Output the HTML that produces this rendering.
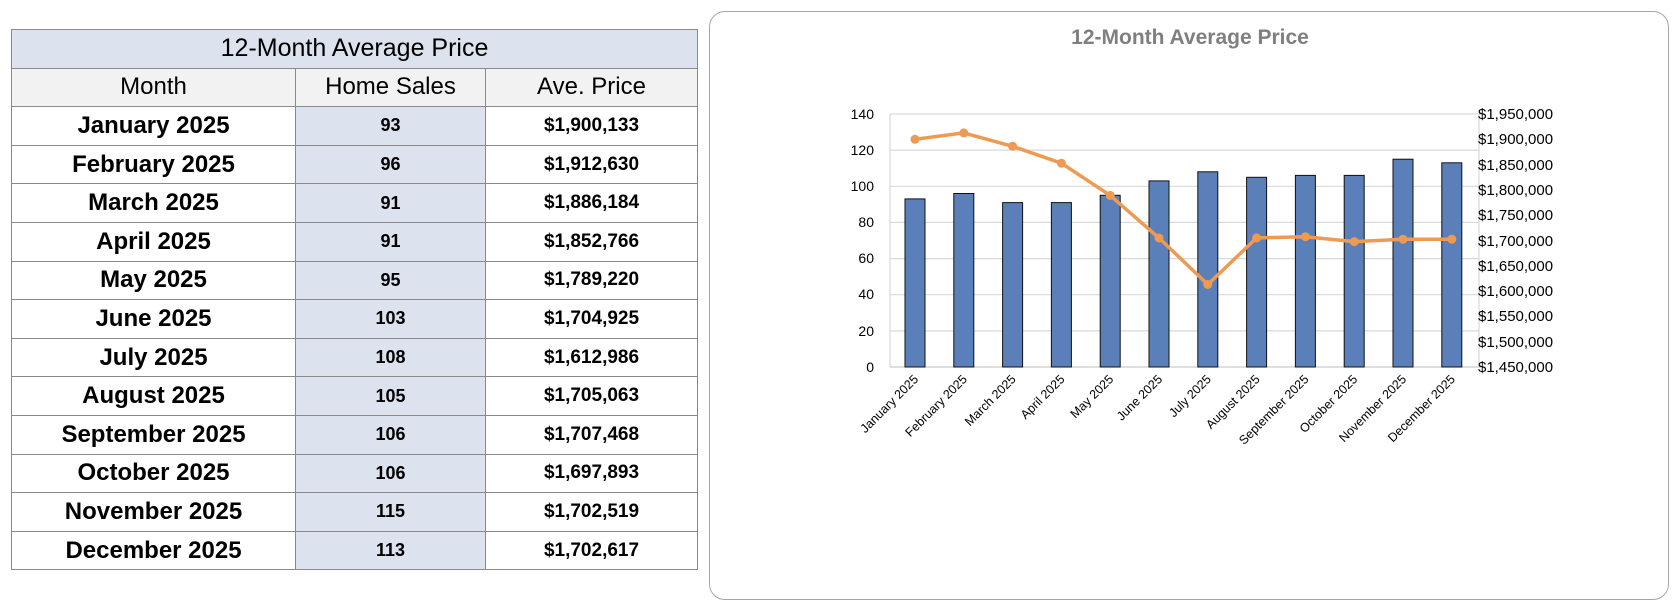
<!DOCTYPE html>
<html><head><meta charset="utf-8"><style>
html,body{margin:0;padding:0;background:#fff;width:1678px;height:610px;overflow:hidden;font-family:"Liberation Sans",Arial,sans-serif}
table{position:absolute;left:11px;top:29px;width:686px;border-collapse:collapse;table-layout:fixed}
td{border:1px solid #8a8a8a;height:37.6px;padding:0;text-align:center;color:#000;white-space:nowrap}
.t{background:#dce3ef;font-size:25px}
.h td{background:#f2f2f2;font-size:24px}
.m{font-weight:bold;font-size:24px}
.s{background:#dce3ef;font-weight:bold;font-size:18px}
.p{font-weight:bold;font-size:19px}
.card{position:absolute;left:709px;top:11px;width:960px;height:589px;border:1.5px solid #a6a6a6;border-radius:16px;box-sizing:border-box}
svg{position:absolute;left:0;top:0}
</style></head><body>
<table>
<colgroup><col style="width:284px"><col style="width:190px"><col style="width:212px"></colgroup>
<tr><td class="t" colspan="3">12-Month Average Price</td></tr>
<tr class="h"><td>Month</td><td>Home Sales</td><td>Ave. Price</td></tr>
<tr><td class="m">January 2025</td><td class="s">93</td><td class="p">$1,900,133</td></tr>
<tr><td class="m">February 2025</td><td class="s">96</td><td class="p">$1,912,630</td></tr>
<tr><td class="m">March 2025</td><td class="s">91</td><td class="p">$1,886,184</td></tr>
<tr><td class="m">April 2025</td><td class="s">91</td><td class="p">$1,852,766</td></tr>
<tr><td class="m">May 2025</td><td class="s">95</td><td class="p">$1,789,220</td></tr>
<tr><td class="m">June 2025</td><td class="s">103</td><td class="p">$1,704,925</td></tr>
<tr><td class="m">July 2025</td><td class="s">108</td><td class="p">$1,612,986</td></tr>
<tr><td class="m">August 2025</td><td class="s">105</td><td class="p">$1,705,063</td></tr>
<tr><td class="m">September 2025</td><td class="s">106</td><td class="p">$1,707,468</td></tr>
<tr><td class="m">October 2025</td><td class="s">106</td><td class="p">$1,697,893</td></tr>
<tr><td class="m">November 2025</td><td class="s">115</td><td class="p">$1,702,519</td></tr>
<tr><td class="m">December 2025</td><td class="s">113</td><td class="p">$1,702,617</td></tr>
</table>
<div class="card"></div>
<svg width="1678" height="610" xmlns="http://www.w3.org/2000/svg" font-family="Liberation Sans, Arial, sans-serif">
<text x="1190" y="44" text-anchor="middle" font-size="21" font-weight="bold" fill="#7f7f7f">12-Month Average Price</text>
<g stroke="#d9d9d9" stroke-width="1.2">
<line x1="890" x2="1479" y1="114" y2="114"/><line x1="890" x2="1479" y1="150.1" y2="150.1"/>
<line x1="890" x2="1479" y1="186.3" y2="186.3"/><line x1="890" x2="1479" y1="222.4" y2="222.4"/>
<line x1="890" x2="1479" y1="258.6" y2="258.6"/><line x1="890" x2="1479" y1="294.7" y2="294.7"/>
<line x1="890" x2="1479" y1="330.9" y2="330.9"/>
<line x1="890" x2="890" y1="114" y2="367"/><line x1="1479" x2="1479" y1="114" y2="367"/>
</g>
<g stroke="#bfbfbf"><line x1="890" x2="1479" y1="367" y2="367"/>
<line x1="1479" x2="1484" y1="114" y2="114"/><line x1="1479" x2="1484" y1="139.3" y2="139.3"/><line x1="1479" x2="1484" y1="164.6" y2="164.6"/><line x1="1479" x2="1484" y1="189.9" y2="189.9"/><line x1="1479" x2="1484" y1="215.2" y2="215.2"/><line x1="1479" x2="1484" y1="240.5" y2="240.5"/><line x1="1479" x2="1484" y1="265.8" y2="265.8"/><line x1="1479" x2="1484" y1="291.1" y2="291.1"/><line x1="1479" x2="1484" y1="316.4" y2="316.4"/><line x1="1479" x2="1484" y1="341.7" y2="341.7"/><line x1="1479" x2="1484" y1="367" y2="367"/></g>
<g font-size="14" text-anchor="end" fill="#000">
<text x="874" y="119">140</text><text x="874" y="155">120</text><text x="874" y="191">100</text><text x="874" y="227">80</text><text x="874" y="263">60</text><text x="874" y="299">40</text><text x="874" y="336">20</text><text x="874" y="372">0</text>
</g>
<g font-size="15" fill="#000">
<text x="1478" y="119">$1,950,000</text><text x="1478" y="144">$1,900,000</text><text x="1478" y="170">$1,850,000</text><text x="1478" y="195">$1,800,000</text><text x="1478" y="220">$1,750,000</text><text x="1478" y="246">$1,700,000</text><text x="1478" y="271">$1,650,000</text><text x="1478" y="296">$1,600,000</text><text x="1478" y="321">$1,550,000</text><text x="1478" y="347">$1,500,000</text><text x="1478" y="372">$1,450,000</text>
</g>
<g fill="#5b7fb8" stroke="#111" stroke-width="1">
<rect x="905" y="198.9" width="20" height="168.1"/>
<rect x="953.8" y="193.5" width="20" height="173.5"/>
<rect x="1002.6" y="202.6" width="20" height="164.4"/>
<rect x="1051.4" y="202.6" width="20" height="164.4"/>
<rect x="1100.2" y="195.3" width="20" height="171.7"/>
<rect x="1149" y="180.9" width="20" height="186.1"/>
<rect x="1197.8" y="171.8" width="20" height="195.2"/>
<rect x="1246.6" y="177.3" width="20" height="189.7"/>
<rect x="1295.4" y="175.4" width="20" height="191.6"/>
<rect x="1344.2" y="175.4" width="20" height="191.6"/>
<rect x="1393" y="159.2" width="20" height="207.8"/>
<rect x="1441.8" y="162.8" width="20" height="204.2"/>
</g>
<polyline fill="none" stroke="#ee9a52" stroke-width="3.5" stroke-linejoin="round" points="915,139.3 963.8,132.9 1012.6,146.3 1061.4,163.2 1110.2,195.4 1159,238 1207.8,284.5 1256.6,237.9 1305.4,236.7 1354.2,241.6 1403,239.2 1451.8,239.2"/>
<g fill="#ee9a52">
<circle cx="915" cy="139.3" r="4.5"/><circle cx="963.8" cy="132.9" r="4.5"/><circle cx="1012.6" cy="146.3" r="4.5"/><circle cx="1061.4" cy="163.2" r="4.5"/><circle cx="1110.2" cy="195.4" r="4.5"/><circle cx="1159" cy="238" r="4.5"/><circle cx="1207.8" cy="284.5" r="4.5"/><circle cx="1256.6" cy="237.9" r="4.5"/><circle cx="1305.4" cy="236.7" r="4.5"/><circle cx="1354.2" cy="241.6" r="4.5"/><circle cx="1403" cy="239.2" r="4.5"/><circle cx="1451.8" cy="239.2" r="4.5"/>
</g>
<g font-size="12.5" text-anchor="end" fill="#000">
<text transform="translate(919,380) rotate(-45)">January 2025</text>
<text transform="translate(967.8,380) rotate(-45)">February 2025</text>
<text transform="translate(1016.6,380) rotate(-45)">March 2025</text>
<text transform="translate(1065.4,380) rotate(-45)">April 2025</text>
<text transform="translate(1114.2,380) rotate(-45)">May 2025</text>
<text transform="translate(1163,380) rotate(-45)">June 2025</text>
<text transform="translate(1211.8,380) rotate(-45)">July 2025</text>
<text transform="translate(1260.6,380) rotate(-45)">August 2025</text>
<text transform="translate(1309.4,380) rotate(-45)">September 2025</text>
<text transform="translate(1358.2,380) rotate(-45)">October 2025</text>
<text transform="translate(1407,380) rotate(-45)">November 2025</text>
<text transform="translate(1455.8,380) rotate(-45)">December 2025</text>
</g>
</svg>
</body></html>
